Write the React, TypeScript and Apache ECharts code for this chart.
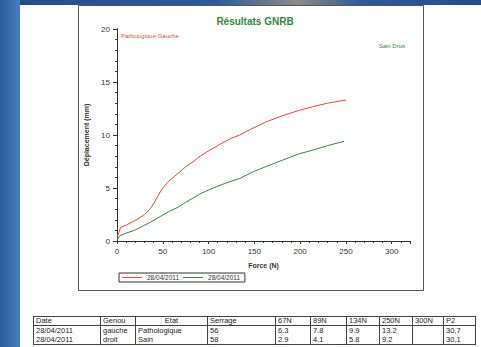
import React, { useEffect, useRef } from "react";
import * as echarts from "echarts";

// Force (N) / displacement (mm) samples for each knee
const forceGauche = [0, 2, 4, 10, 17, 25, 30, 35, 40, 45, 50, 55, 60, 67, 75, 85, 89, 100, 112, 125, 134, 145, 162, 180, 198, 215, 230, 250];
const deplGauche = [0.3, 0.8, 1.3, 1.5, 1.8, 2.2, 2.5, 2.9, 3.5, 4.3, 5.0, 5.5, 5.9, 6.4, 7.0, 7.6, 7.9, 8.5, 9.1, 9.7, 10.0, 10.5, 11.2, 11.8, 12.3, 12.7, 13.0, 13.3];

const forceDroit = [0, 3, 10, 19, 28, 37, 47, 56, 67, 74, 82, 92, 105, 120, 134, 148, 162, 180, 198, 215, 230, 248];
const deplDroit = [0.1, 0.5, 0.75, 1.0, 1.4, 1.8, 2.3, 2.75, 3.2, 3.6, 4.0, 4.5, 5.0, 5.5, 5.9, 6.5, 7.0, 7.6, 8.2, 8.6, 9.0, 9.4];

const legendDates = ["28/04/2011", "28/04/2011 "];

// Summary table
const tableHeader = ["Date", "Genou", "Etat", "Serrage", "67N", "89N", "134N", "250N", "300N", "P2"];
const tableRows = [
  ["28/04/2011", "gauche", "Pathologique", "56", "6.3", "7.8", "9.9", "13.2", "", "30,7"],
  ["28/04/2011", "droit", "Sain", "58", "2.9", "4.1", "5.8", "9.2", "", "30,1"],
];
const colWidths = [67, 35, 72, 68, 35, 36, 33, 33, 31, 32];

const RED = "#e8463c";
const GREEN = "#2f8a3a";
const FONT = "Liberation Sans, Arial, sans-serif";

function Chart() {
  const ref = useRef<HTMLDivElement>(null);
  useEffect(() => {
    if (!ref.current) return;
    const chart = echarts.init(ref.current, null, { renderer: "svg" });
    const axisLine = { show: true, lineStyle: { color: "#333", width: 1 } };
    chart.setOption({
      animation: false,
      textStyle: { fontFamily: FONT },
      title: {
        text: "Résultats GNRB",
        left: 250,
        top: 11,
        textAlign: "center",
        textStyle: { color: GREEN, fontSize: 10, fontWeight: "bold", fontFamily: FONT },
      },
      grid: { left: 117, top: 29, right: 71, bottom: 106 },
      legend: {
        left: 119,
        top: 273,
        data: [
          { name: legendDates[0] },
          { name: legendDates[1] },
        ],
        icon: "rect",
        itemWidth: 20,
        itemHeight: 1,
        itemGap: 4,
        padding: [1, 3, 1, 3],
        borderColor: "#333",
        borderWidth: 1,
        borderRadius: 0,
        textStyle: { fontSize: 6.5, color: "#333", fontFamily: FONT },
      },
      xAxis: [
        {
          type: "value",
          min: 0,
          max: 320,
          interval: 50,
          name: "Force (N)",
          nameLocation: "middle",
          nameGap: 21,
          nameTextStyle: { fontSize: 7, fontWeight: "bold", color: "#333" },
          axisLine,
          axisTick: { show: true, length: 3, lineStyle: { color: "#333" } },
          minorTick: { show: true, splitNumber: 5, length: 2, lineStyle: { color: "#333" } },
          axisLabel: { fontSize: 8, color: "#333", margin: 6, showMaxLabel: false },
          splitLine: { show: false },
        },
        {
          type: "value",
          position: "top",
          min: 0,
          max: 320,
          interval: 50,
          axisLine,
          axisTick: { show: true, inside: true, length: 3, lineStyle: { color: "#333" } },
          minorTick: { show: true, splitNumber: 5, length: 2, lineStyle: { color: "#333" } },
          axisLabel: { show: false },
          splitLine: { show: false },
        },
      ],
      yAxis: [
        {
          type: "value",
          min: 0,
          max: 20,
          interval: 5,
          name: "Déplacement (mm)",
          nameLocation: "middle",
          nameGap: 24,
          nameTextStyle: { fontSize: 7, fontWeight: "bold", color: "#333" },
          axisLine,
          axisTick: { show: true, length: 4, lineStyle: { color: "#333" } },
          minorTick: { show: true, splitNumber: 5, length: 2, lineStyle: { color: "#333" } },
          axisLabel: { fontSize: 8, color: "#333", margin: 7 },
          splitLine: { show: false },
        },
        {
          type: "value",
          position: "right",
          min: 0,
          max: 20,
          interval: 5,
          axisLine,
          axisTick: { show: true, inside: true, length: 3, lineStyle: { color: "#333" } },
          minorTick: { show: true, splitNumber: 5, length: 2, lineStyle: { color: "#333" } },
          axisLabel: { show: false },
          splitLine: { show: false },
        },
      ],
      series: [
        {
          name: legendDates[0],
          type: "line",
          showSymbol: false,
          color: RED,
          lineStyle: { width: 1, color: RED },
          data: forceGauche.map((f, i) => [f, deplGauche[i]]),
        },
        {
          name: legendDates[1],
          type: "line",
          showSymbol: false,
          color: GREEN,
          lineStyle: { width: 1, color: GREEN },
          data: forceDroit.map((f, i) => [f, deplDroit[i]]),
        },
      ],
      graphic: [
        {
          type: "rect",
          shape: { x: 78.5, y: 5.5, width: 345, height: 285 },
          style: { fill: "none", stroke: "#555", lineWidth: 1 },
          silent: true,
        },
        {
          type: "text",
          left: 121,
          top: 33,
          style: { text: "Pathologique Gauche", fill: RED, fontSize: 6, fontFamily: FONT },
        },
        {
          type: "text",
          right: 76,
          top: 43,
          style: { text: "Sain Droit", fill: GREEN, fontSize: 6, fontFamily: FONT },
        },
      ],
    });
    return () => chart.dispose();
  }, []);
  return <div ref={ref} style={{ position: "absolute", left: 0, top: 0, width: 481, height: 347 }} />;
}

export default function App() {
  const cell: React.CSSProperties = {
    borderLeft: "1px solid #444",
    padding: "0 2px",
    fontSize: 7.5,
    lineHeight: "9px",
    color: "#222",
    whiteSpace: "nowrap",
    overflow: "hidden",
    verticalAlign: "top",
  };
  return (
    <div
      style={{
        position: "fixed",
        left: 0,
        top: 0,
        width: 481,
        height: 347,
        overflow: "hidden",
        background: "#ffffff",
        fontFamily: FONT,
      }}
    >
      <div
        style={{
          position: "absolute",
          left: 0,
          top: 0,
          width: 481,
          height: 5,
          background: "linear-gradient(90deg, #1f4f8c 0%, #2a5c98 45%, #8f8a86 62%, #2a5c98 75%, #1f4f8c 100%)",
        }}
      />
      <div
        style={{
          position: "absolute",
          left: 0,
          top: 0,
          width: 20,
          height: 347,
          background: "linear-gradient(90deg, #2a5e9c 0%, #3a71b0 60%, #4a80bd 100%)",
        }}
      />
      <Chart />
      <table
        style={{
          position: "absolute",
          left: 33,
          top: 316,
          borderCollapse: "collapse",
          tableLayout: "fixed",
          width: colWidths.reduce((a, b) => a + b, 0),
          border: "1px solid #444",
          background: "#fff",
        }}
      >
        <colgroup>
          {colWidths.map((w, i) => (
            <col key={i} style={{ width: w }} />
          ))}
        </colgroup>
        <tbody>
          <tr style={{ borderBottom: "1px solid #444" }}>
            {tableHeader.map((h, i) => (
              <td key={i} style={{ ...cell, lineHeight: "8px", textAlign: i === 2 ? "center" : "left" }}>
                {h}
              </td>
            ))}
          </tr>
          {tableRows.map((row, r) => (
            <tr key={r}>
              {row.map((v, i) => (
                <td key={i} style={cell}>
                  {v}
                </td>
              ))}
            </tr>
          ))}
        </tbody>
      </table>
    </div>
  );
}
